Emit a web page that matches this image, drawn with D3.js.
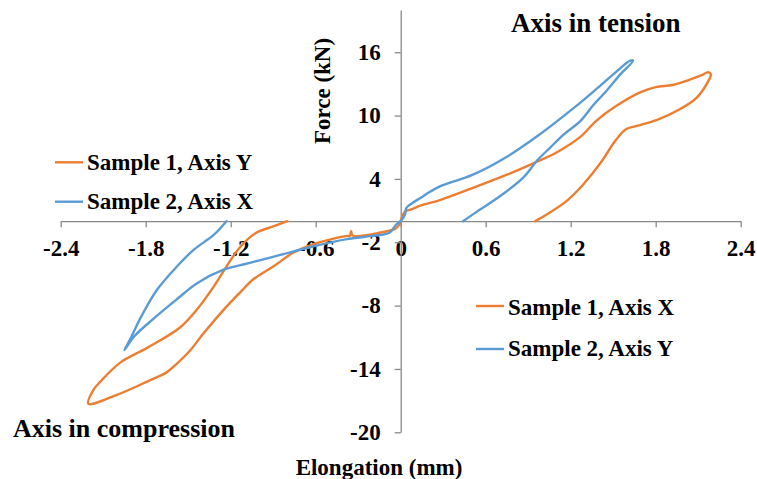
<!DOCTYPE html>
<html>
<head>
<meta charset="utf-8">
<script src="https://cdn.jsdelivr.net/npm/d3@7"></script>
<style>
  html, body { margin: 0; padding: 0; background: #fff; }
  svg { display: block; }
  text { font-family: "Liberation Serif", "Times New Roman", serif; font-weight: bold; fill: #000; }
</style>
</head>
<body>
<svg id="chart" width="757" height="479"></svg>
<script>
// ---------- data (elongation mm, force kN) ----------
const s1AxisX = [ // Sample 1, Axis X (tension)
  [0,0],[0.03,0.9],[0.07,1.1],[0.16,1.56],[0.277,2.0],[0.51,3.15],[0.75,4.4],[0.94,5.5],
  [1.10,6.5],[1.27,8.0],[1.38,9.5],[1.52,10.9],[1.69,12.2],[1.80,12.7],[1.92,12.9],
  [2.04,13.4],[2.12,13.8],[2.17,14.1],[2.19,13.9],[2.18,13.5],[2.09,11.7],[1.97,10.6],
  [1.81,9.6],[1.69,9.1],[1.59,8.7],[1.52,7.7],[1.41,5.5],[1.29,3.5],[1.17,1.9],
  [1.05,0.8],[0.95,0.0]
];
const s2AxisY = [ // Sample 2, Axis Y (tension)
  [0,0],[0.03,0.6],[0.04,1.25],[0.08,1.7],[0.14,2.2],[0.21,2.8],[0.277,3.3],[0.51,4.4],
  [0.75,6.1],[0.98,8.2],[1.22,10.7],[1.38,12.5],[1.50,13.9],[1.62,15.2],[1.64,15.2],
  [1.55,13.9],[1.45,12.3],[1.36,11.0],[1.27,9.5],[1.15,8.2],[1.05,6.9],[0.96,5.7],
  [0.87,4.2],[0.70,2.35],[0.56,1.1],[0.44,0.0]
];
const s1AxisY = [ // Sample 1, Axis Y (compression)
  [0,0],[-0.03,-0.65],[-0.15,-1.1],[-0.34,-1.35],[-0.35,-0.95],[-0.36,-1.4],[-0.38,-1.4],
  [-0.62,-2.2],[-0.76,-3.0],[-0.90,-4.3],[-1.04,-5.5],[-1.13,-6.7],[-1.25,-8.4],
  [-1.39,-10.6],[-1.49,-12.3],[-1.58,-13.5],[-1.65,-14.3],[-1.79,-15.2],[-2.03,-16.6],
  [-2.205,-17.3],[-2.17,-16.0],[-2.12,-15.2],[-1.98,-13.4],[-1.79,-12.0],[-1.56,-10.1],
  [-1.44,-8.4],[-1.32,-6.2],[-1.23,-4.3],[-1.13,-2.4],[-1.02,-1.1],[-0.90,-0.5],[-0.80,0]
];
const s2AxisX = [ // Sample 2, Axis X (compression)
  [0,0],[-0.03,-0.3],[-0.08,-1.1],[-0.2,-1.4],[-0.38,-1.7],[-0.62,-2.4],[-0.85,-3.2],
  [-1.08,-4.0],[-1.25,-4.6],[-1.44,-5.9],[-1.58,-7.4],[-1.75,-9.3],[-1.88,-10.9],
  [-1.95,-12.2],[-1.91,-11.2],[-1.83,-9.0],[-1.72,-6.5],[-1.58,-4.3],[-1.46,-2.7],
  [-1.32,-1.3],[-1.23,0]
];
const xTicks = [-2.4, -1.8, -1.2, -0.6, 0, 0.6, 1.2, 1.8, 2.4];
const yTicks = [16, 10, 4, -2, -8, -14, -20];
const seriesNames = ["Sample 1, Axis X", "Sample 2, Axis Y", "Sample 1, Axis Y", "Sample 2, Axis X"];
const seriesColors = ["#ED7D31", "#5B9BD5", "#ED7D31", "#5B9BD5"];
const seriesData = [s1AxisX, s2AxisY, s1AxisY, s2AxisX];

// ---------- chart ----------
const svg = d3.select("#chart");
const x = d3.scaleLinear().domain([-2.4, 2.4]).range([60.7, 740.7]);
const y = d3.scaleLinear().domain([-20, 20]).range([432.3, 10]);
const axisColor = "#898989";
const fmtX = d => d === 0 ? "0" : d.toFixed(1);
const fmtY = d => String(d);

// X axis at F = 0
const gx = svg.append("g").attr("transform", `translate(0,${y(0)})`)
  .call(d3.axisBottom(x).tickValues(xTicks).tickSize(6).tickSizeOuter(0).tickFormat(fmtX));
gx.select(".domain").attr("stroke", axisColor).attr("stroke-width", 1.3);
gx.selectAll(".tick line").attr("stroke", axisColor).attr("stroke-width", 1.3);
gx.selectAll(".tick text").attr("dy", null).attr("y", 35)
  .style("font-size", "23px").style("font-family", '"Liberation Serif", serif').style("font-weight", "bold").attr("fill", "#000");

// Y axis at elongation = 0
const gy = svg.append("g").attr("transform", `translate(${x(0)},0)`)
  .call(d3.axisLeft(y).tickValues(yTicks).tickSize(6).tickSizeOuter(0).tickPadding(14).tickFormat(fmtY));
gy.select(".domain").attr("stroke", axisColor).attr("stroke-width", 1.3);
gy.selectAll(".tick line").attr("stroke", axisColor).attr("stroke-width", 1.3);
gy.selectAll(".tick text")
  .style("font-size", "23px").style("font-family", '"Liberation Serif", serif').style("font-weight", "bold").attr("fill", "#000");

// Curves
const line = d3.line().x(d => x(d[0])).y(d => y(d[1])).curve(d3.curveCatmullRom.alpha(0.5));
seriesData.forEach((data, i) => {
  svg.append("path").datum(data)
    .attr("d", line).attr("fill", "none")
    .attr("stroke", seriesColors[i]).attr("stroke-width", 2.4)
    .attr("stroke-linejoin", "round").attr("stroke-linecap", "round");
});

// Axis titles
svg.append("text").attr("x", 379).attr("y", 475).attr("text-anchor", "middle")
  .style("font-size", "23px").text("Elongation (mm)");
svg.append("text").attr("transform", "translate(330,91) rotate(-90)").attr("text-anchor", "middle")
  .style("font-size", "23px").text("Force (kN)");

// Annotations
svg.append("text").attr("x", 511).attr("y", 31.5).style("font-size", "27px").text("Axis in tension");
svg.append("text").attr("x", 13).attr("y", 436.5).style("font-size", "26px").text("Axis in compression");

// Legends
const legendItems = [
  { idx: 2, lx: 55, ly: 162.3, ty: 169.5 },
  { idx: 3, lx: 55, ly: 201.7, ty: 209 },
  { idx: 0, lx: 476, ly: 306, ty: 315 },
  { idx: 1, lx: 476, ly: 349, ty: 356 }
];
legendItems.forEach(it => {
  svg.append("line").attr("x1", it.lx).attr("x2", it.lx + 28)
    .attr("y1", it.ly).attr("y2", it.ly)
    .attr("stroke", seriesColors[it.idx]).attr("stroke-width", 2.4);
  svg.append("text").attr("x", it.lx + 32).attr("y", it.ty)
    .style("font-size", "23px").text(seriesNames[it.idx]);
});
</script>
</body>
</html>
